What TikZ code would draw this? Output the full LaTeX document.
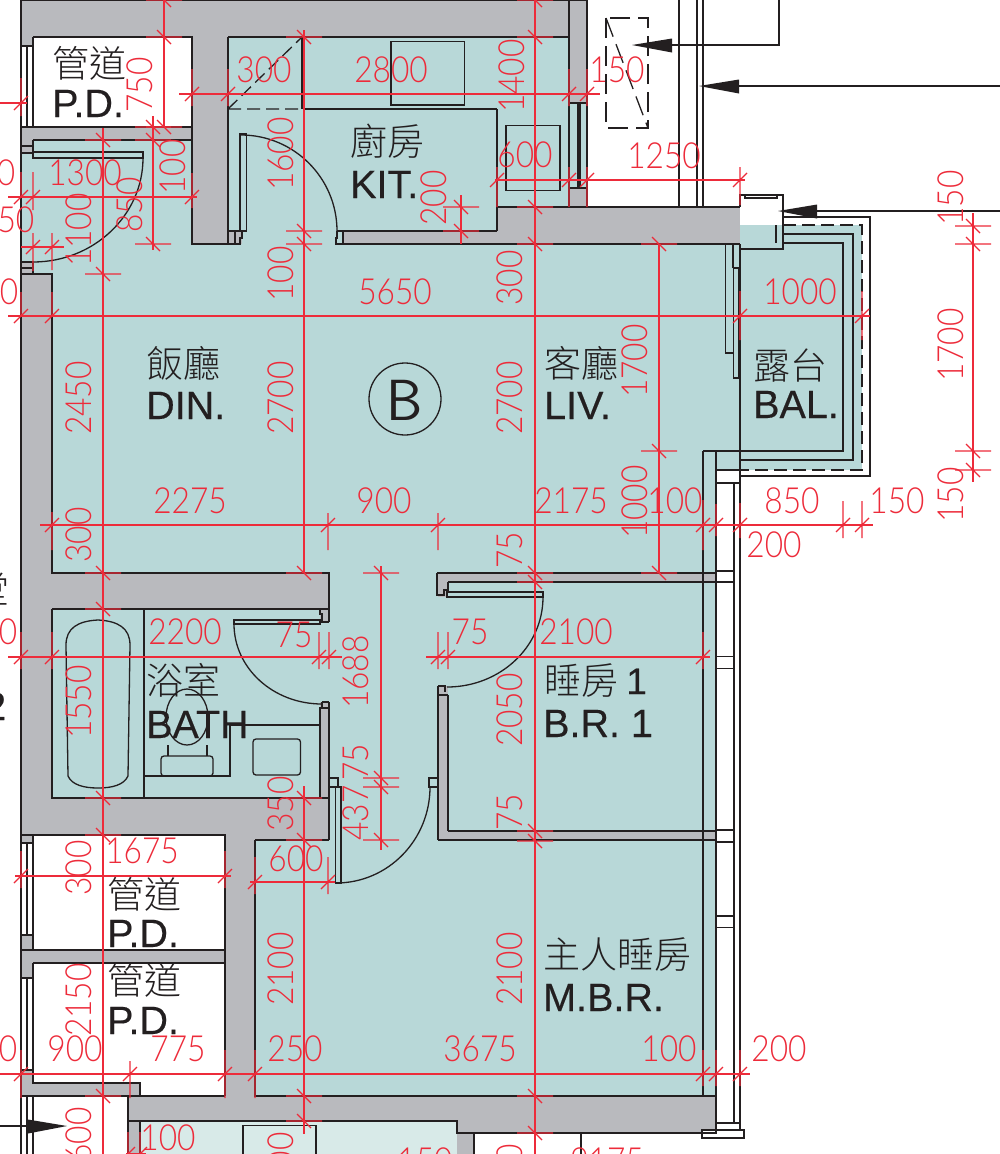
\documentclass[tikz,border=0pt]{standalone}
\usepackage{fontspec}
\newfontfamily\latf[FakeBold=0.35]{Liberation Sans}
\newfontfamily\cjkf{Noto Sans CJK TC Light}
\newfontfamily\dimf[FakeStretch=0.88]{Lato Light}
\definecolor{ink}{HTML}{231F20}
\definecolor{roomc}{HTML}{B8D8D8}
\definecolor{wallc}{HTML}{B9BABE}
\definecolor{palec}{HTML}{D8EAE8}
\definecolor{dimc}{HTML}{ED2B3A}
\newcounter{nn}
\tikzset{
 ol/.style={draw=ink,line width=1.3pt},
 thk/.style={draw=ink,line width=2pt},
 dsh/.style={draw=ink,line width=1.3pt,dash pattern=on 13pt off 6pt},
 dshb/.style={draw=ink,line width=1.3pt,dash pattern=on 20pt off 8pt},
 rd/.style={draw=dimc,line width=1.2pt},
 room/.style={fill=roomc},
 wall/.style={fill=wallc},
 hole/.style={fill=white},
 head/.style={fill=ink},
 dimt/.style={text=dimc,inner sep=0pt,font=\dimf\fontsize{36}{36}\selectfont},
 dimv/.style={dimt,rotate=90},
 cjkt/.style={text=ink,inner sep=0pt,anchor=mid west,font=\cjkf\fontsize{37}{37}\selectfont},
 latt/.style={text=ink,inner sep=0pt,anchor=base west,font=\latf\fontsize{39.5}{40}\selectfont}
}
\newcommand\hd[4]{\draw[rd] (#2,#1)--(#3,#1);
 \foreach \a/\b/\c in {#4}{\draw[rd] (\a,#1-\b)--(\a,#1+\c) (\a-7,#1+7)--(\a+7,#1-7);}}
\newcommand\vd[4]{\draw[rd] (#1,#2)--(#1,#3);
 \foreach \a in {#4}{\draw[rd] (#1-18,\a)--(#1+18,\a) (#1-7,\a-7)--(#1+7,\a+7);}}
\newcommand\dt[3]{\stepcounter{nn}\node[dimt] (d\thenn) at (#1,#2) {#3};}
\newcommand\dv[3]{\stepcounter{nn}\node[dimv] (d\thenn) at (#1,#2) {#3};}
\newcommand\cj[3]{\stepcounter{nn}\node[cjkt] (c\thenn) at (#1,#2+9) {#3};}
\newcommand\la[3]{\stepcounter{nn}\node[latt] (l\thenn) at (#1,#2) {#3};}
\begin{document}
\begin{tikzpicture}[x=1pt,y=-1pt]
\path[use as bounding box,clip] (0,0) rectangle (1000,1154);
\fill[white] (0,0) rectangle (1000,1154);
% ---- fills
\fill[wall] (21,0) rectangle (716,1133);
\fill[wall] (716,207) rectangle (740,244);
\fill[wall] (128,1133) rectangle (474,1154);
\fill[hole] (587,0) rectangle (716,207);
% kitchen
\fill[room] (228,37) rectangle (569,207);
\fill[room] (228,207) rectangle (497,231);
\fill[room] (242,231) rectangle (343,244);
\fill[room] (569,103) rectangle (587,188);
% entry + living
\fill[room] (21,154) rectangle (192,262);
\fill[room] (33,140) rectangle (192,154);
\fill[room] (33,262) rectangle (192,274);
\fill[room] (52,244) rectangle (740,451);
\fill[room] (52,451) rectangle (716,573);
\fill[room] (329,573) rectangle (438,841);
\fill[room] (438,597) rectangle (448,686);
\fill[room] (448,582) rectangle (716,831);
\fill[room] (52,609) rectangle (320,798);
\fill[room] (320,622) rectangle (329,702);
\fill[room] (255,841) rectangle (716,1096);
\fill[room] (716,451) rectangle (740,470);
% balcony
\fill[room] (740,225) rectangle (862,470);
\fill[hole] (740,195) rectangle (783,225);
% shafts
\fill[hole] (33,37) rectangle (192,127);
\fill[hole] (21,46) rectangle (33,127);
\fill[hole] (33,835) rectangle (225,950);
\fill[hole] (21,843) rectangle (33,935);
\fill[hole] (33,963) rectangle (225,1083);
\fill[hole] (140,1083) rectangle (225,1096);
\fill[hole] (21,978) rectangle (33,1070);
\fill[hole] (21,1096) rectangle (128,1154);
\fill[palec] (140,1121) rectangle (457,1154);
% ---- outlines: top and kitchen
\draw[ol] (21,0)--(21,1154);
\draw[ol] (21,0.5)--(587,0.5);
\draw[ol] (587,0)--(587,207) (569,0)--(569,207);
\draw[ol] (569,103)--(587,103) (569,188)--(587,188) (578,103)--(578,188) (580,103)--(580,188);
\draw[ol] (33,37)--(192,37)--(192,244)--(228,244) (228,37)--(569,37) (228,37)--(228,244);
\draw[ol] (33,37)--(33,127)--(192,127) (21,46)--(33,46) (27,46)--(27,127) (21,127)--(33,127);
\draw[ol] (33,140)--(192,140) (33,140)--(33,158) (33,146)--(21,146) (33,153)--(21,153);
\draw[ol] (33,152) rectangle (143,158);
\draw[ol] (143,158) .. controls (143,215) and (94,262) .. (33,262);
\draw[ol] (21,262)--(33,262)--(33,274) (21,268)--(33,268) (21,274)--(52,274)--(52,573)--(329,573)--(329,622);
% kitchen door
\draw[ol] (240,134) rectangle (246.5,231);
\draw[ol] (241,135) .. controls (294,135) and (337,178) .. (337,231);
\draw[ol] (228,231)--(242,231) (235,231)--(235,244) (242,231)--(242,238)--(240,238)--(240,244)--(228,244);
\draw[ol] (337,231)--(343,231)--(343,244) (337,231)--(337,238)--(336,238)--(336,244)--(343,244);
\draw[ol] (343,231)--(497,231) (343,244)--(740,244);
\draw[ol] (497,109)--(497,231) (497,207)--(740,207);
\draw[ol] (302,37)--(302,109) (304,37)--(304,109) (304,109)--(497,109);
\draw[dsh] (228,109)--(302,109) (228,109)--(302,37);
\draw[ol] (391,41.5) rectangle (464.5,105);
\draw[ol] (506,125.5) rectangle (560,190.5);
% services upper right
\draw[ol] (679,0)--(679,207) (697,0)--(697,207) (703,0)--(703,207);
\draw[dshb] (606,18) rectangle (648,128);
\draw[dshb] (606,18)--(648,128);
\draw[ol] (779,0)--(779,45)--(672,45);
\fill[head] (632,45)--(672,38.5)--(672,52.5)--cycle;
\draw[ol] (1000,86)--(739,86);
\fill[head] (699,86)--(739,79.5)--(739,93.5)--cycle;
\draw[ol] (1000,211)--(817,211);
\fill[head] (778,211)--(817,204.5)--(817,218.5)--cycle;
\draw[ol] (0,1126)--(28,1126);
\fill[head] (67,1126)--(28,1119.5)--(28,1133.5)--cycle;
% balcony
\draw[ol] (783,217)--(870,217)--(870,476)--(740,476);
\draw[dsh] (783,225)--(862,225)--(862,470)--(740,470);
\draw[ol] (783,234)--(853,234)--(853,460)--(740,460);
\draw[ol] (783,243)--(843,243)--(843,451)--(703,451);
\draw[thk] (740,207)--(740,195)--(783,195)--(783,249)--(740,249);
\draw[ol] (745,195) rectangle (777,198);
\draw[ol] (776,225)--(776,243);
\draw[ol] (725.5,244)--(725.5,353)--(733,353) (733,244)--(733,268) (740,244)--(740,1130);
\draw[ol] (733.5,268) rectangle (738.5,378);
% east window band
\draw[ol] (703,451)--(703,1096) (716,451)--(716,1130) (734,483)--(734,1123);
\draw[ol] (716,470)--(740,470) (716,483)--(740,483);
\draw[ol] (716,571) rectangle (734,582);
\draw[ol] (716,656.5) rectangle (734,668.5);
\draw[ol] (716,830) rectangle (734,842);
\draw[ol] (716,916) rectangle (734,927.5);
\draw[ol] (716,1123) rectangle (740,1130);
\draw[ol,fill=white] (702,1130) rectangle (744,1138);
% bath
\draw[ol] (52,609)--(329,609) (52,609)--(52,798)--(329,798) (144,609)--(144,798);
\draw[ol] (320,609)--(320,614)--(322,614)--(322,622)--(329,622) (320,622)--(322,622);
\draw[ol] (234,620) rectangle (320,624);
\draw[ol] (234,624) .. controls (234,668) and (273,704) .. (322,704);
\draw[ol] (322,702)--(329,702) (322,702)--(322,708)--(320,708)--(320,798) (320,708)--(329,708) (329,702)--(329,840);
\draw[ol] (66,645) .. controls (66,628) and (78,621) .. (98,620) .. controls (118,621) and (130,628) .. (130,645)
 -- (128,776) .. controls (124,785) and (112,788) .. (98,788) .. controls (84,788) and (72,785) .. (68,776) -- cycle;
\draw[ol] (187,717) ellipse [x radius=21pt,y radius=28pt];
\draw[ol] (168,745)--(168,756) (207,745)--(207,756);
\draw[ol,rounded corners=3pt] (161,756) rectangle (213,776);
\draw[ol] (144,776)--(230,776)--(230,725)--(320,725);
\draw[ol,rounded corners=3pt] (253,739) rectangle (300.5,775);
% doors to bedrooms
\draw[ol,fill=roomc] (329,778) rectangle (338,787);
\draw[ol,fill=roomc] (429,778) rectangle (438,787);
\draw[ol] (335.5,787) rectangle (341,883);
\draw[ol] (430,787) .. controls (430,840) and (388,883) .. (336,883);
\draw[ol] (438,686)--(438,840) (448,695)--(448,831) (438,695)--(448,695) (438,686)--(445,686)--(445,692);
\draw[ol] (437,573)--(716,573) (437,573)--(437,595)--(444,595)--(444,590)--(448,590) (448,582)--(716,582) (448,582)--(448,592);
\draw[ol] (447,592) rectangle (543,597);
\draw[ol] (543,597) .. controls (543,647) and (500,687) .. (447,687);
\draw[ol] (438,840)--(716,840) (448,831)--(716,831);
% lower rooms
\draw[ol] (255,840)--(329,840) (255,840)--(255,1096)--(716,1096) (716,1096)--(716,1133)--(457,1133)--(457,1121)--(128,1121);
\draw[ol] (33,835)--(225,835)--(225,1096) (33,835)--(33,950)--(225,950) (33,963)--(225,963) (33,963)--(33,1083)--(140,1083)--(140,1096);
\draw[ol] (21,835)--(33,835) (21,843)--(33,843) (27,843)--(27,935) (21,935)--(33,935) (21,950)--(33,950);
\draw[ol] (21,978)--(33,978) (27,978)--(27,1070) (21,1070)--(33,1070);
\draw[ol] (21,1096)--(225,1096) (128,1096)--(128,1154) (140,1121)--(140,1154) (33,1096)--(33,1154) (27,1096)--(27,1154);
\draw[ol] (243,1154)--(243,1125.5)--(316,1125.5)--(316,1154);
\draw[ol] (474,1133)--(474,1154) (581,1133)--(581,1154);
% ---- room labels
\cj{52}{66}{管道} \la{52}{117}{P.D.}
\cj{350}{144}{廚房} \la{350}{198}{KIT.}
\cj{146}{366}{飯廳} \la{146}{419}{DIN.}
\cj{544}{366}{客廳} \la{544}{419}{LIV.}
\cj{753}{368}{露台} \la{753}{418}{BAL.}
\cj{146}{683}{浴室} \la{146}{738}{BATH}
\cj{544}{683}{睡房 {\latf 1}} \la{543}{737}{B.R. 1}
\cj{543}{957}{主人睡房} \la{543}{1011}{M.B.R.}
\cj{107}{897}{管道} \la{107}{947}{P.D.}
\cj{107}{983}{管道} \la{107}{1034}{P.D.}
\cj{-28}{592}{堂}
\la{-16}{720}{2}
\draw[ol] (405,399) circle [radius=36pt];
\stepcounter{nn}\node[text=ink,inner sep=0pt,font=\sffamily\fontsize{58}{58}\selectfont] (bmark) at (405,400) {B};
% ---- dimensions: vertical
\vd{535}{0}{1154}{0,37,207,244,573,582,831,841,1096,1133}
\vd{304}{30}{573}{37,231,244,573}
\vd{304}{786}{1134}{798,840,1096,1121}
\vd{103}{128}{1154}{140,274,573,609,798,835,1096}
\vd{164}{0}{127}{0,37,127}
\vd{153}{116}{250}{127,140,244}
\vd{461}{195}{244}{207,231}
\vd{659}{244}{573}{244,451,573}
\vd{381}{566}{850}{573,778,787,840}
\vd{973}{213}{482}{226,244,451,470}
% ---- dimensions: horizontal
\hd{94}{179}{600}{192/25/12,228/25/12,569/25/12,587/25/12}
\hd{103}{0}{27}{21/25/13}
\hd{197}{8}{197}{21/25/0,33/25/13,192/24/11}
\hd{180}{495}{745}{497/13/27,569/13/27,587/13/27,740/13/25}
\hd{247}{21}{64}{33/14/24,52/14/23}
\hd{316}{8}{870}{21/24/0,52/24/0,740/25/24,862/25/24}
\hd{525}{40}{873}{52/13/25,328/12/25,438/12/25,703/25/25,716/21/11,740/22/13,843/24/13,862/24/13}
\hd{657}{8}{342}{21/25/12,52/25/12,319/25/12,329/25/12}
\hd{657}{426}{710}{438/25/12,448/25/12,703/25/12}
\hd{876}{15}{231}{21/25/12,225/25/12}
\hd{882}{250}{335}{255/25/12,328/25/12}
\hd{1074}{0}{750}{21/24/24,130/13/24,225/24/24,255/24/24,703/24/12,716/24/12,740/24/12}
\hd{1154}{126}{146}{128/22/0,140/22/0}
% ---- dimension texts
\dt{264}{70}{300} \dt{391}{70}{2800} \dt{617}{70}{150}
\dv{512}{76}{1400} \dv{140}{85}{750}
\dt{85}{173}{1300} \dt{6}{173}{0} \dt{16}{220}{50}
\dv{173}{167}{100} \dv{130}{205}{850} \dv{79}{230}{1100}
\dv{281}{154}{1600} \dt{525}{155}{600} \dt{664}{156}{1250}
\dv{434}{198}{200} \dv{281}{274}{100} \dt{395}{292}{5650}
\dv{510}{278}{300} \dt{9}{292}{0} \dt{800}{292}{1000}
\dv{951}{198}{150} \dv{951}{345}{1700} \dv{635}{361}{1700}
\dv{79}{398}{2450} \dv{281}{398}{2700} \dv{510}{398}{2700}
\dt{190}{501}{2275} \dt{384}{501}{900} \dt{571}{501}{2175}
\dv{635}{502}{1000} \dt{675}{501}{100} \dt{792}{501}{850}
\dt{897}{501}{150} \dv{951}{495}{150} \dt{774}{545}{200}
\dv{79}{535}{300} \dv{510}{550}{75}
\dt{185}{632}{2200} \dt{294}{635}{75} \dt{8}{632}{0}
\dt{470}{632}{75} \dt{576}{632}{2100}
\dv{356}{672}{1688} \dv{79}{702}{1550} \dv{510}{710}{2050}
\dv{356}{762}{75} \dv{510}{812}{75} \dv{281}{804}{350} \dv{356}{813}{437}
\dt{142}{851}{1675} \dt{296}{859}{600} \dv{79}{868}{300}
\dv{281}{969}{2100} \dv{510}{969}{2100} \dv{79}{1000}{2150}
\dt{75}{1049}{900} \dt{178}{1049}{775} \dt{8}{1049}{0}
\dt{295}{1049}{250} \dt{480}{1049}{3675} \dt{669}{1049}{100} \dt{779}{1049}{200}
\dv{79}{1135}{600} \dt{168}{1138}{100} \dv{281}{1160}{300}
\dt{425}{1161}{150} \dt{607}{1161}{9175} \dv{510}{1172}{300}
\end{tikzpicture}
\end{document}
